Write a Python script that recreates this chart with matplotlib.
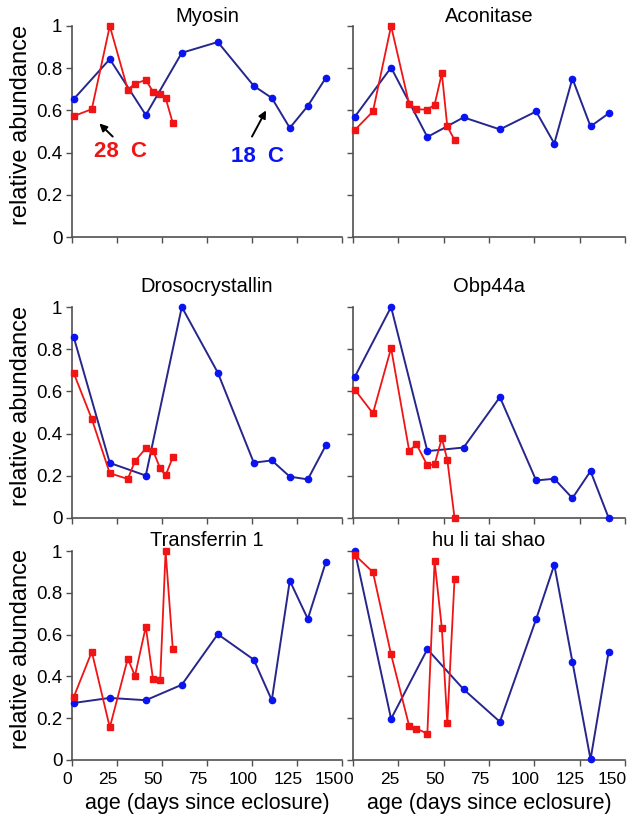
import matplotlib
matplotlib.use("Agg")
import matplotlib.pyplot as plt
import matplotlib.transforms as mtransforms

plt.rcParams['font.family'] = ['Liberation Sans', 'DejaVu Sans']

# days since eclosure
days_18C = [1, 21, 41, 61, 81, 101, 111, 121, 131, 141]
days_28C = [1, 11, 21, 31, 35, 41, 45, 49, 52, 56]

titles = ["Myosin", "Aconitase", "Drosocrystallin", "Obp44a", "Transferrin 1", "hu li tai shao"]

myosin_18 = [0.654, 0.843, 0.578, 0.873, 0.924, 0.716, 0.659, 0.517, 0.621, 0.754]
myosin_28 = [0.573, 0.606, 1.0, 0.698, 0.727, 0.744, 0.689, 0.678, 0.659, 0.540]

aconitase_18 = [0.570, 0.803, 0.474, 0.567, 0.510, 0.595, 0.443, 0.751, 0.524, 0.586]
aconitase_28 = [0.507, 0.595, 1.0, 0.628, 0.606, 0.603, 0.627, 0.776, 0.524, 0.460]

droso_18 = [0.856, 0.261, 0.201, 1.0, 0.689, 0.262, 0.273, 0.196, 0.183, 0.344]
droso_28 = [0.686, 0.469, 0.212, 0.185, 0.270, 0.330, 0.319, 0.235, 0.202, 0.288]

obp_18 = [0.669, 1.0, 0.317, 0.334, 0.573, 0.178, 0.186, 0.094, 0.222, 0.0]
obp_28 = [0.608, 0.496, 0.805, 0.318, 0.350, 0.249, 0.254, 0.378, 0.276, 0.0]

transf_18 = [0.273, 0.297, 0.286, 0.360, 0.602, 0.480, 0.286, 0.858, 0.675, 0.946]
transf_28 = [0.302, 0.518, 0.156, 0.485, 0.403, 0.638, 0.387, 0.384, 1.0, 0.532]

hlts_18 = [1.0, 0.197, 0.530, 0.338, 0.183, 0.674, 0.934, 0.470, 0.003, 0.519]
hlts_28 = [0.981, 0.899, 0.505, 0.162, 0.150, 0.126, 0.950, 0.631, 0.177, 0.866]

series_18 = [myosin_18, aconitase_18, droso_18, obp_18, transf_18, hlts_18]
series_28 = [myosin_28, aconitase_28, droso_28, obp_28, transf_28, hlts_28]

xticks = [0, 25, 50, 75, 100, 125, 150]
yticks = [0, 0.2, 0.4, 0.6, 0.8, 1]
ytick_labels = ["0", "0.2", "0.4", "0.6", "0.8", "1"]

W, H = 637, 816
fig = plt.figure(figsize=(W / 100, H / 100), dpi=100)

col_px = [(72, 342), (353, 625)]
row_px = [(26, 237), (307, 518), (551, 760)]
title_off = [9, 20, 10]

BLUE_LINE = "#26268c"
BLUE_MK = "#0a14f0"
RED = "#f01414"
SPINE = "#505050"

axes = []
for i in range(6):
    r, c = divmod(i, 2)
    x0, x1 = col_px[c]
    y1, y0 = row_px[r]
    ax = fig.add_axes([x0 / W, (H - y0) / H, (x1 - x0) / W, (y0 - y1) / H])
    axes.append(ax)
    ax.plot(days_18C, series_18[i], color=BLUE_LINE, lw=1.4, marker='o', ms=4.5,
            mfc=BLUE_MK, mec=BLUE_MK, clip_on=False, zorder=3)
    ax.plot(days_28C, series_28[i], color=RED, lw=1.3, marker='s', ms=4.0,
            mfc=RED, mec=RED, clip_on=False, zorder=4)
    ax.set_xlim(0, 150)
    ax.set_ylim(0, 1)
    ax.set_xticks(xticks)
    ax.set_yticks(yticks)
    for s in ["top", "right"]:
        ax.spines[s].set_visible(False)
    for s in ["left", "bottom"]:
        ax.spines[s].set_color(SPINE)
        ax.spines[s].set_linewidth(1.2)
    ax.tick_params(direction='out', length=4, width=1.0, color=SPINE)
    ax.tick_params(axis='y', labelsize=13.5, pad=3)
    ax.tick_params(axis='x', labelsize=12.5, pad=5)
    if c == 0:
        ax.set_yticklabels(ytick_labels)
        ax.set_ylabel("relative abundance", fontsize=17, va='center')
        ax.yaxis.set_label_coords(-0.19, 0.53)
    else:
        ax.set_yticklabels([])
    if r == 2:
        ax.set_xticklabels([str(t) for t in xticks])
        ax.set_xlabel("age (days since eclosure)", fontsize=15.5, va='center')
        ax.xaxis.set_label_coords(0.5, -0.21)
        shifts = [-5, -9, -9, -9, -9, -9, -13]
        for lab, dx in zip(ax.get_xticklabels(), shifts):
            lab.set_transform(lab.get_transform() +
                              mtransforms.ScaledTranslation(dx / 100, 0, fig.dpi_scale_trans))
    else:
        ax.set_xticklabels([])
    ax.text(0.5, 1 + title_off[r] / (y0 - y1), titles[i], transform=ax.transAxes,
            ha='center', va='center', fontsize=14.5)

ax = axes[0]
arrow_style = dict(arrowstyle='-|>', color='black', lw=1.4, mutation_scale=11,
                   shrinkA=0, shrinkB=0)
ax.annotate("", xy=(15.2, 0.538), xytext=(22.6, 0.476), arrowprops=arrow_style)
ax.text(26.7, 0.405, "28  C", color=RED, fontsize=16, fontweight='bold', ha='center', va='center')
ax.annotate("", xy=(107.8, 0.60), xytext=(100, 0.476), arrowprops=arrow_style)
ax.text(103, 0.381, "18  C", color=BLUE_MK, fontsize=16, fontweight='bold', ha='center', va='center')

fig.savefig("out.png", dpi=100)
